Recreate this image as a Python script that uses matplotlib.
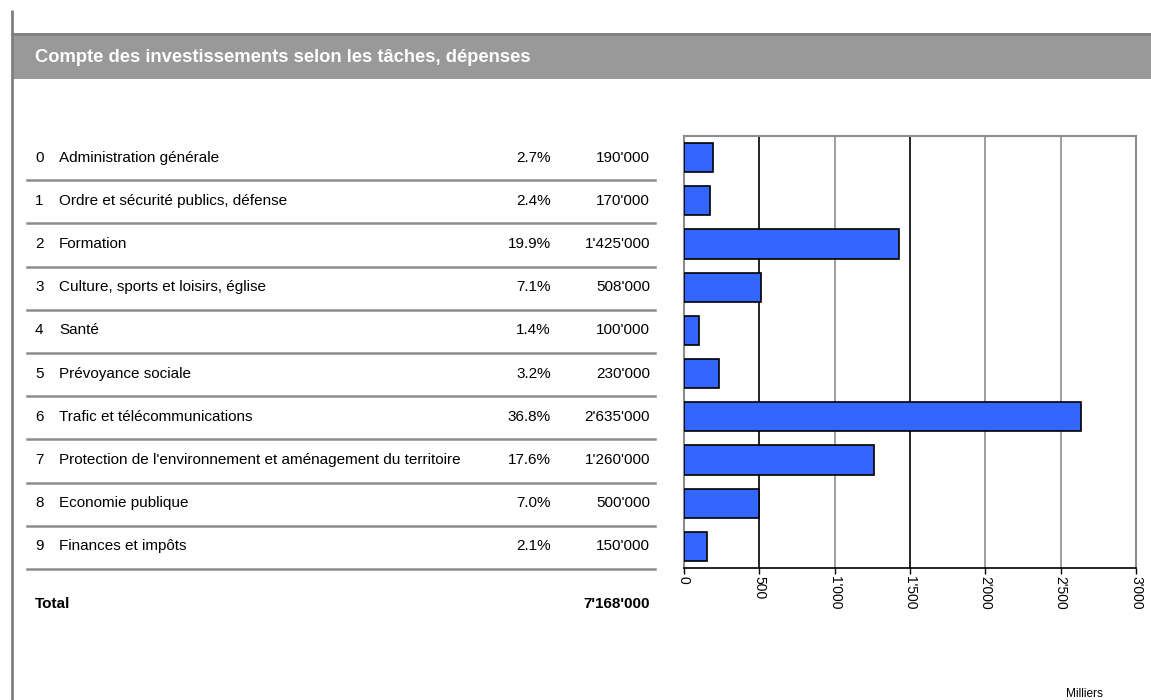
import matplotlib.pyplot as plt
from matplotlib.ticker import FuncFormatter

plt.rcParams['font.family'] = ['Liberation Sans', 'DejaVu Sans']

# data (thousands)
codes = ['0', '1', '2', '3', '4', '5', '6', '7', '8', '9']
tasks = ['Administration générale',
         'Ordre et sécurité publics, défense',
         'Formation',
         'Culture, sports et loisirs, église',
         'Santé',
         'Prévoyance sociale',
         'Trafic et télécommunications',
         "Protection de l'environnement et aménagement du territoire",
         'Economie publique',
         'Finances et impôts']
shares = [2.7, 2.4, 19.9, 7.1, 1.4, 3.2, 36.8, 17.6, 7.0, 2.1]
values = [190, 170, 1425, 508, 100, 230, 2635, 1260, 500, 150]
ticks = [0, 500, 1000, 1500, 2000, 2500, 3000]


def swiss(n):
    return f'{n:,.0f}'.replace(',', "'")


W, H = 1151, 700
fig = plt.figure(figsize=(W / 100, H / 100), dpi=100)

# background canvas in pixel coords
bg = fig.add_axes([0, 0, 1, 1])
bg.set_xlim(0, W)
bg.set_ylim(H, 0)
bg.axis('off')

# frame + header
bg.plot([12.5, 12.5], [10, H], color='#808080', lw=2, solid_capstyle='butt')
bg.add_patch(plt.Rectangle((12, 33), W - 12, 46, facecolor='#999999', edgecolor='none'))
bg.plot([12, W], [34, 34], color='#808080', lw=2)
bg.text(35, 58, 'Compte des investissements selon les tâches, dépenses',
        color='white', fontsize=13.2, fontweight='bold', va='center', ha='left')

# table
fs = 11
top, bottom = 136, 568
row_h = (bottom - top) / len(tasks)
for i in range(len(tasks)):
    y = top + row_h * (i + 0.5)
    bg.text(35, y, codes[i], fontsize=fs, va='center', ha='left')
    bg.text(59, y, tasks[i], fontsize=fs, va='center', ha='left')
    bg.text(551, y, f'{shares[i]:.1f}%', fontsize=fs, va='center', ha='right')
    bg.text(650, y, swiss(values[i] * 1000), fontsize=fs, va='center', ha='right')
    yl = top + row_h * (i + 1) + 1
    bg.plot([27, 655], [yl, yl], color='#8c8c8c', lw=1.8)

bg.text(35, 604, 'Total', fontsize=fs, fontweight='bold', va='center', ha='left')
bg.text(650, 604, swiss(sum(values) * 1000), fontsize=fs, fontweight='bold',
        va='center', ha='right')
bg.text(1084, 694, 'Milliers', fontsize=8.6, va='center', ha='center')

# bar chart
x0, x1 = 684, 1136
ax = fig.add_axes([x0 / W, 1 - bottom / H, (x1 - x0) / W, (bottom - top) / H])
ax.barh(range(len(values)), values, height=0.68, color='#3366ff',
        edgecolor='black', linewidth=1.2, zorder=3)
ax.set_xlim(0, 3000)
ax.set_ylim(len(values) - 0.5, -0.5)
ax.set_yticks([])
ax.set_xticks(ticks)
ax.xaxis.set_major_formatter(FuncFormatter(lambda v, p: swiss(v)))
ax.tick_params(axis='x', labelrotation=-90, labelsize=10, length=4, width=1, pad=2)
for t in ax.get_xticklabels():
    t.set_va('top')
for v in ticks[1:-1]:
    ax.axvline(v, color='black' if v in (500, 1500) else '#8c8c8c', lw=1.2, zorder=1)
for side in ['left', 'top', 'right']:
    ax.spines[side].set_color('#8c8c8c')
    ax.spines[side].set_linewidth(1.5)
ax.spines['bottom'].set_color('black')
ax.spines['bottom'].set_linewidth(1.2)

fig.savefig('out.png', dpi=100)
